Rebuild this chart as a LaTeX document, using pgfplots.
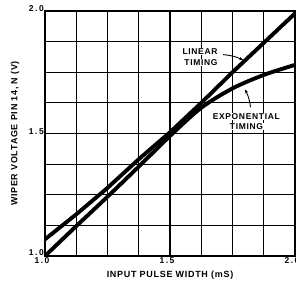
\documentclass[border=0pt]{standalone}
\usepackage{pgfplots}
\pgfplotsset{compat=1.18}
\usepackage{fontspec}
\setmainfont{Liberation Sans}
\newfontfamily\lab[LetterSpace=8]{Liberation Sans}
\newfontfamily\tlab[LetterSpace=18]{Liberation Sans}
\usetikzlibrary{arrows.meta}
\begin{document}
\begin{tikzpicture}
\begin{axis}[
  name=ax,
  scale only axis, width=250bp, height=245bp,
  xmin=1, xmax=2, ymin=1, ymax=2,
  xtick={1,1.5,2}, ytick={1,1.5,2},
  minor xtick={1.125,1.25,1.375,1.625,1.75,1.875},
  minor ytick={1.125,1.25,1.375,1.625,1.75,1.875},
  xticklabels={1.0,1.5,2.0}, yticklabels={\raisebox{3bp}{1.0},1.5,2.0},
  grid=both,
  major grid style={black, line width=1.2bp},
  minor grid style={black, line width=1.2bp},
  axis line style={black, line width=1.6bp},
  major tick length=0pt, minor tick length=0pt,
  ticklabel style={font=\tlab\bfseries\fontsize{8.5}{9}\selectfont},
  xticklabel style={anchor=north, inner sep=1.5bp, xshift=-3bp},
  yticklabel style={anchor=east, inner sep=1bp, yshift=2bp},
  xlabel={INPUT PULSE WIDTH (mS)},
  ylabel={WIPER VOLTAGE PIN 14, N (V)},
  label style={font=\lab\bfseries\fontsize{9}{10}\selectfont},
  xlabel style={at={(axis description cs:0.5,-0.078)}, anchor=center},
  ylabel style={at={(axis description cs:-0.12,0.5)}, anchor=center, rotate=0},
  clip=true,
]
\addplot[black, line width=3.9bp] coordinates {
  (1.0,1.068) (1.125,1.17) (1.25,1.278) (1.375,1.395) (1.5,1.505)
  (1.625,1.625) (1.75,1.75) (1.875,1.87) (2.0,1.99)
};
\addplot[black, line width=3.9bp, smooth] coordinates {
  (1.0,1.0) (1.125,1.122) (1.25,1.242) (1.375,1.365) (1.5,1.49)
  (1.625,1.605) (1.75,1.684) (1.875,1.739) (2.0,1.78)
};
\node[font=\lab\bfseries\fontsize{8.5}{9}\selectfont, fill=white, inner sep=0.5bp] at (axis cs:1.62,1.834) {LINEAR};
\node[font=\lab\bfseries\fontsize{8.5}{9}\selectfont, fill=white, inner sep=0.5bp] at (axis cs:1.624,1.788) {TIMING};
\node[font=\lab\bfseries\fontsize{8.5}{9}\selectfont, fill=white, inner sep=0.5bp] at (axis cs:1.805,1.571) {EXPONENTIAL};
\node[font=\lab\bfseries\fontsize{8.5}{9}\selectfont, fill=white, inner sep=0.5bp] at (axis cs:1.806,1.527) {TIMING};
\draw[line width=0.9bp, -{Stealth[length=4bp,width=3bp]}] (axis cs:1.712,1.822) to[bend left=10] (axis cs:1.792,1.800);
\draw[line width=0.9bp, -{Stealth[length=4bp,width=3bp]}] (axis cs:1.822,1.607) to[bend right=10] (axis cs:1.800,1.680);
\end{axis}
\pgfresetboundingbox
\useasboundingbox ([xshift=-45bp, yshift=-33bp]ax.south west) rectangle ([xshift=1bp, yshift=11bp]ax.north east);
\end{tikzpicture}
\end{document}
